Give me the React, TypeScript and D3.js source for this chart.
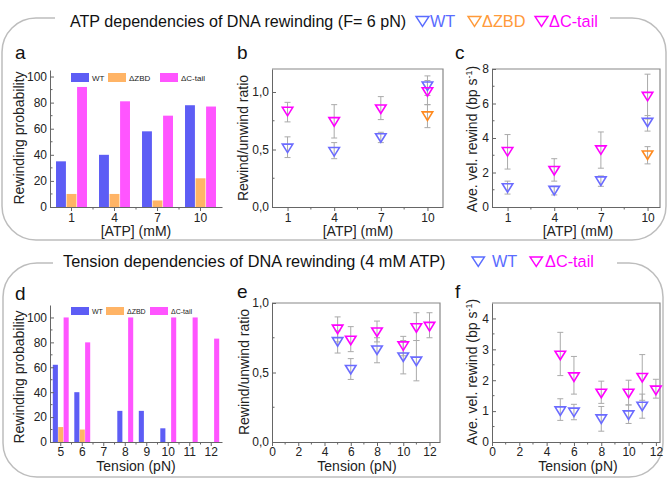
import React, { useRef, useEffect } from 'react';
import * as d3 from 'd3';

// x, value, low, high
type Pt = [number, number, number, number];

// ---- panel a: rewinding probability vs ATP (bars)
const atpCats = ['1', '4', '7', '10'];
const atpProbWT = [35, 40, 58, 78];
const atpProbZBD = [10, 10, 5, 22];
const atpProbCT = [92, 81, 70, 77];

// ---- panel b: rewind/unwind ratio vs ATP
const atpRatioWT: Pt[] = [[1, 0.51, 0.43, 0.61], [4, 0.48, 0.42, 0.56], [7, 0.6, 0.56, 0.65], [10, 1.05, 0.97, 1.14]];
const atpRatioZBD: Pt[] = [[10, 0.79, 0.69, 0.89]];
const atpRatioCT: Pt[] = [[1, 0.83, 0.74, 0.91], [4, 0.74, 0.6, 0.89], [7, 0.85, 0.76, 0.96], [10, 1.0, 0.89, 1.1]];

// ---- panel c: average rewind velocity vs ATP
const atpVelWT: Pt[] = [[1, 1.1, 0.75, 1.5], [4, 0.95, 0.7, 1.2], [7, 1.5, 1.2, 1.8], [10, 4.9, 4.4, 5.3]];
const atpVelZBD: Pt[] = [[10, 3.0, 2.5, 3.5]];
const atpVelCT: Pt[] = [[1, 3.2, 2.2, 4.2], [4, 2.1, 1.5, 2.8], [7, 3.3, 2.25, 4.35], [10, 6.4, 5.1, 7.7]];

// ---- panel d: rewinding probability vs tension (bars)
const tenCats = ['5', '6', '7', '8', '9', '10', '11', '12'];
const tenProbWT = [62, 40, 0, 25, 25, 11, 0, 0];
const tenProbZBD = [12, 10, 0, 0, 0, 0, 0, 0];
const tenProbCT = [100, 80, 0, 100, 0, 100, 100, 83];

// ---- panel e: rewind/unwind ratio vs tension
const tenRatioWT: Pt[] = [[5, 0.72, 0.64, 0.8], [6, 0.52, 0.45, 0.6], [8, 0.66, 0.57, 0.75], [10, 0.61, 0.49, 0.73], [11, 0.58, 0.44, 0.73]];
const tenRatioCT: Pt[] = [[5, 0.81, 0.72, 0.9], [6, 0.73, 0.65, 0.83], [8, 0.79, 0.72, 0.87], [10, 0.69, 0.62, 0.76], [11, 0.82, 0.73, 0.93], [12, 0.83, 0.75, 0.93]];

// ---- panel f: average rewind velocity vs tension
const tenVelWT: Pt[] = [[5, 1.0, 0.7, 1.4], [6, 0.96, 0.72, 1.22], [8, 0.74, 0.35, 1.15], [10, 0.87, 0.6, 1.2], [11, 1.15, 0.77, 1.55]];
const tenVelCT: Pt[] = [[5, 2.8, 2.15, 3.55], [6, 2.1, 1.55, 2.77], [8, 1.57, 1.25, 1.97], [10, 1.57, 1.2, 2.0], [11, 2.08, 1.35, 2.83], [12, 1.67, 1.42, 2.03]];

// tick labels
const atpTicks = [1, 4, 7, 10];
const atpMinor = [2.5, 5.5, 8.5];
const tenTicks = [0, 2, 4, 6, 8, 10, 12];
const tenMinor = [1, 3, 5, 7, 9, 11];
const probTicks = [0, 20, 40, 60, 80, 100];
const probMinor = [10, 30, 50, 70, 90];

const W = 668;
const H = 479;
const FONT = '"Liberation Sans", Arial, Helvetica, sans-serif';
const AXIS = '#666';
const ERR = '#aaaaaa';
const BAR = { wt: '#5d5df5', zbd: '#ffb466', ct: '#ff55ff' };
const MARK = { wt: '#6b6bff', zbd: '#ff8a1f', ct: '#ff00ff' };
const LEG = { wt: '#5a6cff', zbd: '#ff9a3a', ct: '#ff00ff' };

interface Box { x0: number; x1: number; y0: number; y1: number }
type Sel = d3.Selection<SVGGElement, unknown, null, undefined>;

const comma = (d: d3.NumberValue) => d3.format('.1f')(d as number).replace('.', ',');

function styleAxis(g: Sel, size = 12) {
  g.select('.domain').attr('stroke', AXIS);
  g.selectAll('.tick line').attr('stroke', AXIS);
  g.selectAll('.tick text').attr('fill', '#222').style('font-family', FONT).style('font-size', `${size}px`);
}

function minorTicks(g: Sel, xs: number[], ys: number[], b: Box) {
  g.append('g').selectAll('line').data(xs).join('line')
    .attr('x1', (d) => d).attr('x2', (d) => d).attr('y1', b.y1).attr('y2', b.y1 + 2.5)
    .attr('stroke', AXIS);
  g.append('g').selectAll('line').data(ys).join('line')
    .attr('y1', (d) => d).attr('y2', (d) => d).attr('x1', b.x0).attr('x2', b.x0 + 2.5)
    .attr('stroke', AXIS);
}

function boxLines(g: Sel, b: Box) {
  g.append('path')
    .attr('d', `M${b.x0},${b.y0}H${b.x1}V${b.y1}`)
    .attr('fill', 'none').attr('stroke', '#888').attr('stroke-width', 1.2);
}

function yTitle(g: Sel, x: number, y: number, parts: [string, boolean][]) {
  const t = g.append('text')
    .attr('transform', `translate(${x},${y}) rotate(-90)`)
    .attr('text-anchor', 'middle')
    .style('font-family', FONT).style('font-size', '14px').attr('fill', '#222');
  parts.forEach(([s, sup], i) => {
    const ts = t.append('tspan').text(s);
    if (sup) ts.attr('dy', -5).style('font-size', '9px');
    else if (i > 0) ts.attr('dy', 5);
  });
}

function xTitle(g: Sel, x: number, y: number, s: string) {
  g.append('text').attr('x', x).attr('y', y).attr('text-anchor', 'middle')
    .style('font-family', FONT).style('font-size', '14px').attr('fill', '#222').text(s);
}

function panelLetter(g: Sel, x: number, y: number, s: string) {
  g.append('text').attr('x', x).attr('y', y)
    .style('font-family', FONT).style('font-size', '19px').attr('fill', '#111').text(s);
}

function triPath(cx: number, cy: number, w: number, h: number) {
  return `M${cx - w / 2},${cy - h / 2}L${cx + w / 2},${cy - h / 2}L${cx},${cy + h / 2}Z`;
}

function barPanel(
  g: Sel, b: Box, cats: string[], series: { vals: number[]; color: string; label: string }[],
  yMax: number, pad: number, legX: number[], legY: number, legFont: number, tickPad: number
) {
  const x0 = d3.scaleBand().domain(cats).range([b.x0, b.x1]).paddingInner(pad).paddingOuter(pad / 2);
  const x1 = d3.scaleBand().domain(series.map((s) => s.label)).range([0, x0.bandwidth()]).paddingInner(0.06);
  const y = d3.scaleLinear().domain([0, yMax]).range([b.y1, b.y0]);

  series.forEach((s) => {
    g.append('g').selectAll('rect').data(s.vals).join('rect')
      .attr('x', (_, i) => (x0(cats[i]) as number) + (x1(s.label) as number))
      .attr('width', x1.bandwidth())
      .attr('y', (d) => y(d))
      .attr('height', (d) => y(0) - y(d))
      .attr('fill', s.color);
  });

  const ax = g.append('g').attr('transform', `translate(0,${b.y1})`)
    .call(d3.axisBottom(x0).tickSize(4).tickSizeOuter(0).tickPadding(tickPad));
  styleAxis(ax);
  const ay = g.append('g').attr('transform', `translate(${b.x0},0)`)
    .call(d3.axisLeft(y).tickValues(probTicks).tickSizeInner(-4).tickSizeOuter(0).tickPadding(3));
  styleAxis(ay);
  const step = x0.step();
  minorTicks(g, cats.slice(1).map((c) => (x0(c) as number) - (step * pad) / 2), probMinor.map((v) => y(v)), b);

  // legend
  series.forEach((s, i) => {
    g.append('rect').attr('x', legX[i]).attr('y', legY).attr('width', 18).attr('height', legFont + 1).attr('fill', s.color);
    g.append('text').attr('x', legX[i] + 21).attr('y', legY + legFont)
      .style('font-family', FONT).style('font-size', `${legFont}px`).attr('fill', '#222').text(s.label);
  });
}

function scatterPanel(
  g: Sel, b: Box, xDom: [number, number], yDom: [number, number],
  xt: number[], xm: number[], yt: number[], ym: number[], yFmt: ((d: d3.NumberValue) => string) | null,
  series: { pts: Pt[]; color: string }[], tickPad: number
) {
  const x = d3.scaleLinear().domain(xDom).range([b.x0, b.x1]);
  const y = d3.scaleLinear().domain(yDom).range([b.y1, b.y0]);

  boxLines(g, b);
  const ax = g.append('g').attr('transform', `translate(0,${b.y1})`)
    .call(d3.axisBottom(x).tickValues(xt).tickFormat(d3.format('d')).tickSize(4).tickSizeOuter(0).tickPadding(tickPad));
  styleAxis(ax);
  const left = d3.axisLeft(y).tickValues(yt).tickSizeInner(-4).tickSizeOuter(0).tickPadding(3);
  if (yFmt) left.tickFormat(yFmt);
  else left.tickFormat(d3.format('d'));
  const ay = g.append('g').attr('transform', `translate(${b.x0},0)`).call(left);
  styleAxis(ay);
  minorTicks(g, xm.map((v) => x(v)), ym.map((v) => y(v)), b);

  series.forEach((s) => {
    const eb = g.append('g').attr('stroke', ERR).attr('stroke-width', 1);
    s.pts.forEach(([px, , lo, hi]) => {
      eb.append('line').attr('x1', x(px)).attr('x2', x(px)).attr('y1', y(lo)).attr('y2', y(hi));
      eb.append('line').attr('x1', x(px) - 3).attr('x2', x(px) + 3).attr('y1', y(lo)).attr('y2', y(lo));
      eb.append('line').attr('x1', x(px) - 3).attr('x2', x(px) + 3).attr('y1', y(hi)).attr('y2', y(hi));
    });
  });
  series.forEach((s) => {
    g.append('g').selectAll('path').data(s.pts).join('path')
      .attr('d', (d) => triPath(x(d[0]), y(d[1]), 10.5, 8.5))
      .attr('fill', 'none').attr('stroke', s.color).attr('stroke-width', 1.6)
      .attr('stroke-linejoin', 'miter');
  });
}

function framePath(l: number, r: number, t: number, btm: number, rad: number, gapL: number, gapR: number) {
  const p = d3.path();
  p.moveTo(gapL, t);
  p.lineTo(l + rad, t);
  p.arcTo(l, t, l, t + rad, rad);
  p.lineTo(l, btm - rad);
  p.arcTo(l, btm, l + rad, btm, rad);
  p.lineTo(r - rad, btm);
  p.arcTo(r, btm, r, btm - rad, rad);
  p.lineTo(r, t + rad);
  p.arcTo(r, t, r - rad, t, rad);
  p.lineTo(gapR, t);
  return p.toString();
}

function titleLegend(g: Sel, items: { label: string; color: string; x: number; tx: number }[], base: number, size: number, tw: number, th: number) {
  items.forEach((it) => {
    g.append('path').attr('d', triPath(it.x + tw / 2, base - th / 2 - 0.5, tw, th))
      .attr('fill', 'none').attr('stroke', it.color).attr('stroke-width', 1.4);
    g.append('text').attr('x', it.tx).attr('y', base)
      .style('font-family', FONT).style('font-size', `${size}px`).attr('fill', it.color).text(it.label);
  });
}

export default function App() {
  const ref = useRef<SVGSVGElement | null>(null);

  useEffect(() => {
    if (!ref.current) return;
    const root = d3.select(ref.current);
    root.selectAll('*').remove();
    const g = root.append('g') as unknown as Sel;

    // frames
    g.append('path').attr('d', framePath(2, 666, 18, 240, 34, 55, 610))
      .attr('fill', 'none').attr('stroke', '#bdbdbd').attr('stroke-width', 1.5);
    g.append('path').attr('d', framePath(3, 663, 263, 477, 34, 53, 617))
      .attr('fill', 'none').attr('stroke', '#bdbdbd').attr('stroke-width', 1.5);

    // titles
    g.append('text').attr('x', 70).attr('y', 27)
      .style('font-family', FONT).style('font-size', '16.1px').attr('fill', '#111')
      .text('ATP dependencies of DNA rewinding (F= 6 pN)');
    titleLegend(g, [
      { label: 'WT', color: LEG.wt, x: 416, tx: 430 },
      { label: 'ΔZBD', color: LEG.zbd, x: 468, tx: 482 },
      { label: 'ΔC-tail', color: LEG.ct, x: 535, tx: 549 },
    ], 27, 16.3, 13, 10);
    g.append('text').attr('x', 63).attr('y', 267)
      .style('font-family', FONT).style('font-size', '16.3px').attr('fill', '#111')
      .text('Tension dependencies of DNA rewinding (4 mM ATP)');
    titleLegend(g, [
      { label: 'WT', color: LEG.wt, x: 472, tx: 492 },
      { label: 'ΔC-tail', color: LEG.ct, x: 530, tx: 545 },
    ], 267, 16.3, 12.5, 9.5);

    // top row
    const bA: Box = { x0: 50, x1: 222, y0: 70, y1: 207 };
    barPanel(g, bA, atpCats, [
      { vals: atpProbWT, color: BAR.wt, label: 'WT' },
      { vals: atpProbZBD, color: BAR.zbd, label: 'ΔZBD' },
      { vals: atpProbCT, color: BAR.ct, label: 'ΔC-tail' },
    ], 105, 0.28, [71, 108, 160], 73, 8, 2);
    panelLetter(g, 15, 59, 'a');
    yTitle(g, 24, 138, [['Rewinding probability', false]]);
    xTitle(g, 136, 236, '[ATP] (mM)');

    const bB: Box = { x0: 272, x1: 443, y0: 69, y1: 207 };
    scatterPanel(g, bB, [0, 11], [0, 1.2], atpTicks, atpMinor, [0, 0.5, 1.0], [0.25, 0.75], comma, [
      { pts: atpRatioWT, color: MARK.wt },
      { pts: atpRatioZBD, color: MARK.zbd },
      { pts: atpRatioCT, color: MARK.ct },
    ], 2);
    panelLetter(g, 237, 59, 'b');
    yTitle(g, 248, 138, [['Rewind/unwind ratio', false]]);
    xTitle(g, 358, 236, '[ATP] (mM)');

    const bC: Box = { x0: 492, x1: 660, y0: 69, y1: 207 };
    scatterPanel(g, bC, [0, 10.8], [0, 8], atpTicks, atpMinor, [0, 2, 4, 6, 8], [1, 3, 5, 7], null, [
      { pts: atpVelWT, color: MARK.wt },
      { pts: atpVelZBD, color: MARK.zbd },
      { pts: atpVelCT, color: MARK.ct },
    ], 2);
    panelLetter(g, 455, 59, 'c');
    yTitle(g, 477, 139, [['Ave. vel. rewind (bp s', false], ['-1', true], [')', false]]);
    xTitle(g, 578, 236, '[ATP] (mM)');

    // bottom row
    const bD: Box = { x0: 50, x1: 222, y0: 305, y1: 442 };
    barPanel(g, bD, tenCats, [
      { vals: tenProbWT, color: BAR.wt, label: 'WT' },
      { vals: tenProbZBD, color: BAR.zbd, label: 'ΔZBD' },
      { vals: tenProbCT, color: BAR.ct, label: 'ΔC-tail' },
    ], 110, 0.26, [71, 106, 150], 307, 7, 1);
    panelLetter(g, 15, 300, 'd');
    yTitle(g, 24, 377, [['Rewinding probability', false]]);
    xTitle(g, 136, 471, 'Tension (pN)');

    const bE: Box = { x0: 272, x1: 440, y0: 303, y1: 442 };
    scatterPanel(g, bE, [0, 12.8], [0, 1.0], tenTicks, tenMinor, [0, 0.5, 1.0], [0.25, 0.75], comma, [
      { pts: tenRatioWT, color: MARK.wt },
      { pts: tenRatioCT, color: MARK.ct },
    ], 1);
    panelLetter(g, 237, 298, 'e');
    yTitle(g, 249, 372, [['Rewind/unwind ratio', false]]);
    xTitle(g, 357, 471, 'Tension (pN)');

    const bF: Box = { x0: 492, x1: 660, y0: 303, y1: 442 };
    scatterPanel(g, bF, [0, 12.3], [0, 4.5], tenTicks, tenMinor, [0, 1, 2, 3, 4], [0.5, 1.5, 2.5, 3.5], null, [
      { pts: tenVelWT, color: MARK.wt },
      { pts: tenVelCT, color: MARK.ct },
    ], 1);
    panelLetter(g, 455, 298, 'f');
    yTitle(g, 477, 372, [['Ave. vel. rewind (bp s', false], ['-1', true], [')', false]]);
    xTitle(g, 578, 471, 'Tension (pN)');
  }, []);

  return (
    <svg
      ref={ref}
      width={W}
      height={H}
      style={{ position: 'absolute', left: 0, top: 0, background: '#fff' }}
    />
  );
}
